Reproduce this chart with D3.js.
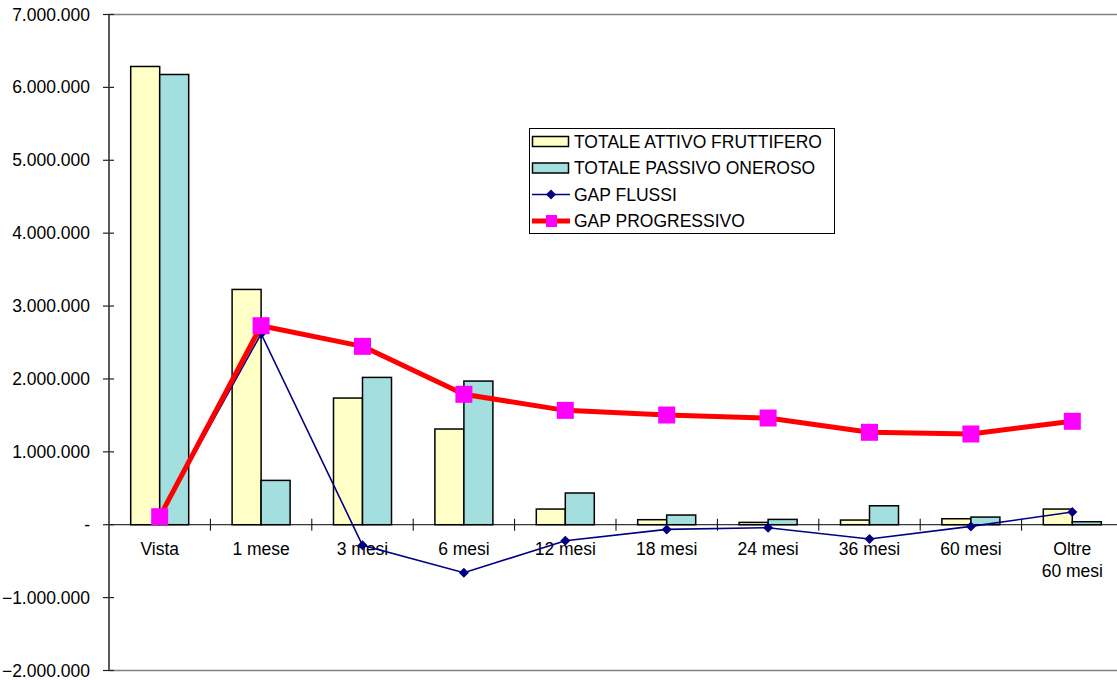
<!DOCTYPE html>
<html>
<head>
<meta charset="utf-8">
<script src="https://cdn.jsdelivr.net/npm/d3@7"></script>
<style>
  html, body { margin: 0; padding: 0; background: #fff; }
  svg { display: block; font-family: "Liberation Sans", Arial, sans-serif; }
</style>
</head>
<body>
<svg id="chart" width="1117" height="680"></svg>
<script>
// Scadenze (maturity buckets)
const categories = ["Vista", "1 mese", "3 mesi", "6 mesi", "12 mesi", "18 mesi", "24 mesi", "36 mesi", "60 mesi", "Oltre\n60 mesi"];

// Totale attivo fruttifero per fascia
const attivoFruttifero = [6287000, 3228000, 1738000, 1313000, 215000, 69000, 32000, 64000, 82000, 215000];
// Totale passivo oneroso per fascia
const passivoOneroso = [6177000, 608000, 2021000, 1971000, 435000, 133000, 73000, 260000, 105000, 41000];
// Gap dei flussi per fascia
const gapFlussi = [110000, 2620000, -283000, -658000, -220000, -64000, -41000, -196000, -23000, 174000];
// Gap progressivo (cumulato)
const gapProgressivo = [110000, 2730000, 2447000, 1789000, 1569000, 1505000, 1464000, 1268000, 1245000, 1419000];

const yTicks = [7000000, 6000000, 5000000, 4000000, 3000000, 2000000, 1000000, 0, -1000000, -2000000];

const svg = d3.select("#chart");
const plotLeft = 109, plotRight = 1123, plotTop = 14.5, plotBottom = 670.5;

const x = d3.scaleBand().domain(categories).range([plotLeft, plotRight]).paddingInner(0).paddingOuter(0);
const y = d3.scaleLinear().domain([-2000000, 7000000]).range([plotBottom, plotTop]);
const barW = 29;
const cx = c => x(c) + x.bandwidth() / 2;

// it-IT thousand separators
const itLocale = d3.formatLocale({decimal: ",", thousands: ".", grouping: [3], currency: ["€", ""]});
const fmt = v => v === 0 ? "-" : itLocale.format(",d")(v);

// frame lines (top & bottom)
svg.append("line").attr("x1", plotLeft).attr("x2", 1117).attr("y1", plotTop).attr("y2", plotTop)
  .attr("stroke", "#808080").attr("stroke-width", 1.5);
svg.append("line").attr("x1", plotLeft).attr("x2", 1117).attr("y1", plotBottom).attr("y2", plotBottom)
  .attr("stroke", "#808080").attr("stroke-width", 1.5);

// bars
const bars = svg.append("g");
categories.forEach((c, i) => {
  bars.append("rect")
    .attr("x", cx(c) - barW).attr("width", barW)
    .attr("y", y(attivoFruttifero[i])).attr("height", y(0) - y(attivoFruttifero[i]))
    .attr("fill", "#FFFFC6").attr("stroke", "#000").attr("stroke-width", 1.5);
  bars.append("rect")
    .attr("x", cx(c)).attr("width", barW)
    .attr("y", y(passivoOneroso[i])).attr("height", y(0) - y(passivoOneroso[i]))
    .attr("fill", "#A3DFDF").attr("stroke", "#000").attr("stroke-width", 1.5);
});

// zero line and category ticks
svg.append("line").attr("x1", plotLeft).attr("x2", 1117).attr("y1", y(0)).attr("y2", y(0))
  .attr("stroke", "#000").attr("stroke-width", 1);
categories.forEach(c => {
  svg.append("line").attr("x1", x(c) + x.bandwidth()).attr("x2", x(c) + x.bandwidth())
    .attr("y1", y(0) - 6).attr("y2", y(0) + 6).attr("stroke", "#000").attr("stroke-width", 1);
});

// category labels
categories.forEach(c => {
  const lines = c.split("\n");
  const t = svg.append("text").attr("x", cx(c)).attr("y", 555)
    .attr("text-anchor", "middle").attr("font-size", "17.5px").attr("fill", "#000");
  lines.forEach((l, k) => t.append("tspan").attr("x", cx(c)).attr("dy", k === 0 ? 0 : 21.5).text(l));
});

// y axis
const yAxis = d3.axisLeft(y).tickValues(yTicks).tickSize(0).tickFormat(fmt);
const gy = svg.append("g").attr("transform", `translate(${plotLeft},0)`).call(yAxis);
gy.select(".domain").remove();
gy.selectAll("text").attr("x", -19).attr("font-size", "17.5px")
  .attr("font-family", "Liberation Sans, Arial, sans-serif").attr("fill", "#000");
yTicks.forEach(t => {
  svg.append("line").attr("x1", plotLeft - 6).attr("x2", plotLeft + 5).attr("y1", y(t)).attr("y2", y(t))
    .attr("stroke", "#222").attr("stroke-width", 1.2);
});
svg.append("line").attr("x1", plotLeft).attr("x2", plotLeft).attr("y1", plotTop).attr("y2", plotBottom)
  .attr("stroke", "#333").attr("stroke-width", 1.6);

// GAP FLUSSI line
const line = d3.line().x((d, i) => cx(categories[i])).y(d => y(d));
svg.append("path").datum(gapFlussi).attr("d", line)
  .attr("fill", "none").attr("stroke", "#000080").attr("stroke-width", 1.6);
const diamond = d3.symbol().type(d3.symbolDiamond2).size(64);
gapFlussi.forEach((v, i) => {
  svg.append("path").attr("d", diamond).attr("transform", `translate(${cx(categories[i])},${y(v)})`)
    .attr("fill", "#000080");
});

// GAP PROGRESSIVO line
svg.append("path").datum(gapProgressivo).attr("d", line)
  .attr("fill", "none").attr("stroke", "#FF0000").attr("stroke-width", 5).attr("stroke-linejoin", "round");
gapProgressivo.forEach((v, i) => {
  svg.append("rect").attr("x", cx(categories[i]) - 8.5).attr("y", y(v) - 8.5)
    .attr("width", 17).attr("height", 17).attr("fill", "#FF00FF");
});

// legend
const lg = svg.append("g");
lg.append("rect").attr("x", 529.5).attr("y", 128.5).attr("width", 305).attr("height", 105)
  .attr("fill", "#fff").attr("stroke", "#000").attr("stroke-width", 1);
const items = [
  {name: "TOTALE ATTIVO FRUTTIFERO", type: "bar", fill: "#FFFFC6"},
  {name: "TOTALE PASSIVO ONEROSO", type: "bar", fill: "#A3DFDF"},
  {name: "GAP FLUSSI", type: "flussi"},
  {name: "GAP PROGRESSIVO", type: "prog"}
];
items.forEach((it, k) => {
  const by = 147.5 + k * 26.5;
  const sy = by - 6;
  if (it.type === "bar") {
    lg.append("rect").attr("x", 532.5).attr("y", sy - 5).attr("width", 36).attr("height", 10)
      .attr("fill", it.fill).attr("stroke", "#000").attr("stroke-width", 1.5);
  } else if (it.type === "flussi") {
    lg.append("line").attr("x1", 532).attr("x2", 570).attr("y1", sy).attr("y2", sy)
      .attr("stroke", "#000080").attr("stroke-width", 1.6);
    lg.append("path").attr("d", diamond).attr("transform", `translate(551,${sy})`).attr("fill", "#000080");
  } else {
    lg.append("line").attr("x1", 532).attr("x2", 570).attr("y1", sy).attr("y2", sy)
      .attr("stroke", "#FF0000").attr("stroke-width", 5);
    lg.append("rect").attr("x", 546).attr("y", sy - 6).attr("width", 11).attr("height", 12).attr("fill", "#FF00FF");
  }
  lg.append("text").attr("x", 574).attr("y", by).attr("font-size", "17.5px").attr("fill", "#000").text(it.name);
});
</script>
</body>
</html>
